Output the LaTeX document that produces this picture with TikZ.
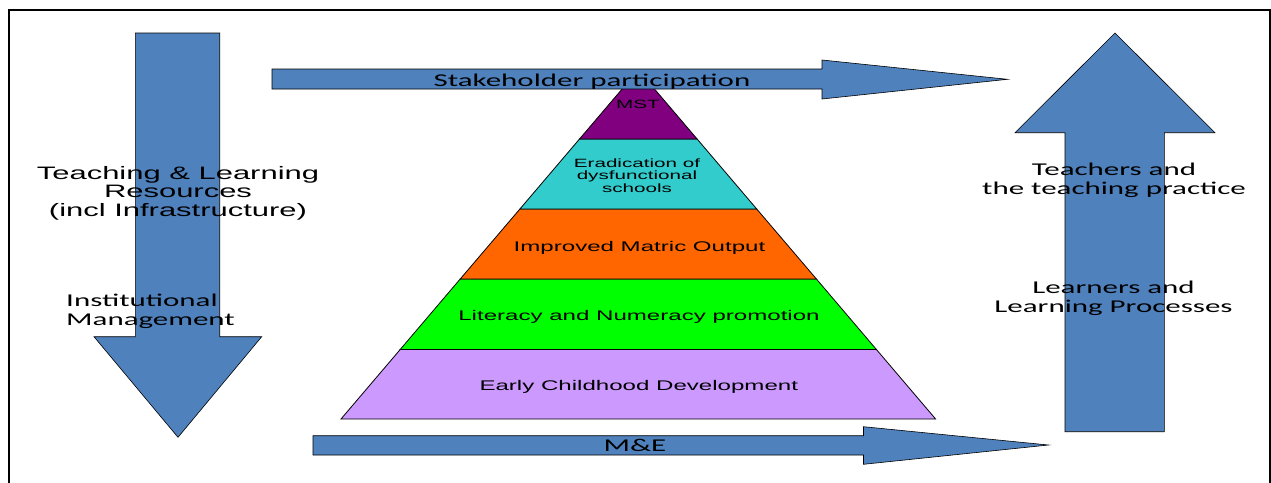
\documentclass[tikz,border=0pt]{standalone}
\usepackage{fontspec}
\newfontfamily\arialw[FakeStretch=1.72]{Liberation Sans}
\newfontfamily\calw[FakeStretch=1.72]{Carlito}
\definecolor{arrowblue}{HTML}{4F81BD}
\definecolor{mstpurple}{HTML}{800080}
\definecolor{eradteal}{HTML}{33CCCC}
\definecolor{matricorange}{HTML}{FF6600}
\definecolor{litgreen}{HTML}{00FF00}
\definecolor{ecdlilac}{HTML}{CC99FF}
\tikzset{
  blockarrow/.style={fill=arrowblue, draw=black, line width=0.6pt, line join=miter},
  layer/.style={draw=black, line width=0.8pt, line join=miter},
  txt/.style={inner sep=0pt, anchor=base, align=center, text=black},
  sidecal/.style={txt, font=\calw\fontsize{18}{18.6}\selectfont},
  sidearial/.style={txt, font=\arialw\fontsize{18}{18.8}\selectfont},
  layerbig/.style={txt, font=\arialw\fontsize{14}{14}\selectfont},
  layersmall/.style={txt, font=\arialw\fontsize{12}{12.5}\selectfont},
}
\begin{document}
\begin{tikzpicture}[x=1pt,y=-1pt]
\useasboundingbox (0,0) rectangle (1271,482);
% outer frame (open at the bottom edge of the page)
\draw[line width=1.5pt] (9,495) -- (9,10) -- (1270,10) -- (1270,495);

% pyramid layers, bottom to top
\draw[layer, fill=ecdlilac]     (341.0,419) -- (935.6,419) -- (876.4,349.5) -- (400.2,349.5) -- cycle;
\draw[layer, fill=litgreen]     (400.2,349.5) -- (876.4,349.5) -- (816.4,279) -- (460.2,279) -- cycle;
\draw[layer, fill=matricorange] (460.2,279) -- (816.4,279) -- (756.7,209) -- (519.9,209) -- cycle;
\draw[layer, fill=eradteal]     (519.9,209) -- (756.7,209) -- (697.1,139) -- (579.5,139) -- cycle;
\draw[layer, fill=mstpurple]    (579.5,139) -- (697.1,139) -- (638.3,70) -- cycle;

% multi-line labels are placed by the baseline of their last line
\node[layersmall] (mst) at (638,108) {MST};
\node[layersmall] (erad) at (637,192) {Eradication of\\dysfunctional\\schools};
\node[layerbig] (matric) at (639.5,251) {Improved Matric Output};
\node[layerbig] (literacy) at (639,320.7) {Literacy and Numeracy promotion};
\node[layerbig] (ecd) at (638.8,390) {Early Childhood Development};

% stakeholder participation arrow
\draw[blockarrow] (272,69) -- (822,69) -- (822,60) -- (1007.5,79.3) -- (822,99) -- (822,89) -- (272,89) -- cycle;
\node[sidecal] (stake) at (592,86) {Stakeholder participation};

% M&E arrow
\draw[blockarrow] (313,435.7) -- (863.5,435.7) -- (863.5,426.7) -- (1048.5,445) -- (863.5,464.3) -- (863.5,455) -- (313,455) -- cycle;
\node[sidecal] (me) at (635,451.7) {M\&E};

% downward arrow on the left
\draw[blockarrow] (135.3,33) -- (219.7,33) -- (219.7,336.7) -- (261.7,336.7) -- (178,437.3) -- (94,336.7) -- (135.3,336.7) -- cycle;
\node[sidearial] (tlr) at (178,216.7) {Teaching \& Learning\\Resources\\(incl Infrastructure)};
\node[sidecal, anchor=base west, align=left] (inst) at (66,325) {Institutional\\Management};

% upward arrow on the right
\draw[blockarrow] (1065,431.7) -- (1065,132.7) -- (1015,132.7) -- (1115,33) -- (1215,132.7) -- (1164.3,132.7) -- (1164.3,431.7) -- cycle;
\node[sidecal] (teachers) at (1114,194) {Teachers and\\the teaching practice};
\node[sidecal] (learners) at (1113.5,312) {Learners and\\Learning Processes};
\end{tikzpicture}
\end{document}
